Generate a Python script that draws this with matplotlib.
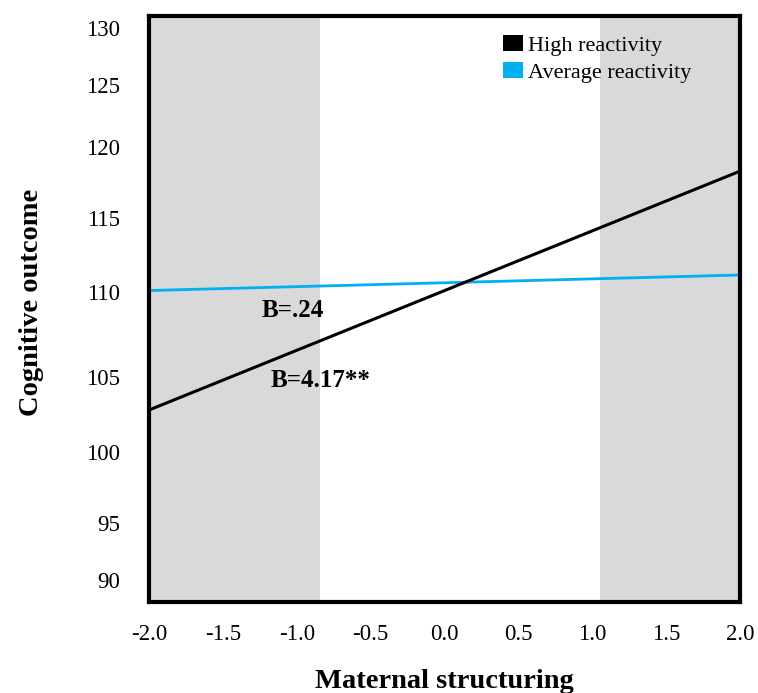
import numpy as np
import matplotlib
matplotlib.use("Agg")
import matplotlib.pyplot as plt
from matplotlib.patches import Patch

plt.rcParams["font.family"] = ["Liberation Serif", "DejaVu Serif"]
plt.rcParams["axes.unicode_minus"] = False

# Data
x_ends = [-2.0, 2.0]
high_reactivity = [102.8, 118.3]
average_reactivity = [110.1, 111.15]
shade_regions = [(-2.0, -0.84), (1.05, 2.0)]
x_ticks = [-2.0, -1.5, -1.0, -0.5, 0.0, 0.5, 1.0, 1.5, 2.0]
x_tick_labels = ["-2.0", "-1.5", "-1.0", "-0.5", "0.0", "0.5", "1.0", "1.5", "2.0"]
y_ticks = [90, 95, 100, 105, 110, 115, 120, 125, 130]
y_tick_labels = ["90", "95", "100", "105", "110", "115", "120", "125", "130"]
annotations = [("B=.24", -1.03, 108.9), ("B=4.17**", -0.84, 104.8)]

# The original y axis is unevenly spaced; map values to heights (px above the bottom)
knot_vals = np.array([0.0, 88.1, 90, 95, 100, 105, 110, 115, 120, 125, 130, 131.05, 300.0])
knot_h = np.array([-8810.0, 0, 22, 79, 150, 225, 310, 384, 455, 517, 574, 586, 17586.0])


def fwd(v):
    return np.interp(v, knot_vals, knot_h)


def inv(h):
    return np.interp(h, knot_h, knot_vals)


fig = plt.figure(figsize=(7.58, 6.93), dpi=100)
ax = fig.add_axes([0.1966, 0.1313, 0.7797, 0.8456])
ax.set_yscale("function", functions=(fwd, inv))

for lo, hi in shade_regions:
    ax.axvspan(lo, hi, color="#d9d9d9", lw=0, zorder=0)

ax.plot(x_ends, average_reactivity, color="#00b0f0", lw=2.0, solid_capstyle="butt")
ax.plot(x_ends, high_reactivity, color="black", lw=2.2, solid_capstyle="butt")

for txt, x, y in annotations:
    ax.text(x, y, txt, ha="center", va="center", fontsize=18, fontweight="bold")

ax.set_xlim(-2.0, 2.0)
ax.set_ylim(88.1, 131.05)
ax.set_xticks(x_ticks)
ax.set_xticklabels(x_tick_labels)
ax.set_yticks(y_ticks)
ax.set_yticklabels(y_tick_labels)
ax.yaxis.set_minor_locator(matplotlib.ticker.NullLocator())
ax.xaxis.set_minor_locator(matplotlib.ticker.NullLocator())
ax.tick_params(axis="both", length=0, labelsize=16.5)
ax.tick_params(axis="y", pad=21)
ax.tick_params(axis="x", pad=16)

for s in ax.spines.values():
    s.set_linewidth(3)
    s.set_zorder(5)

ax.set_xlabel("Maternal structuring", fontsize=20.5, fontweight="bold", labelpad=17)
ax.set_ylabel("Cognitive outcome", fontsize=20.5, fontweight="bold", labelpad=30)
ax.yaxis.label.set_y(0.512)

handles = [Patch(facecolor="black", edgecolor="none"),
           Patch(facecolor="#00b0f0", edgecolor="none")]
ax.legend(handles, ["High reactivity", "Average reactivity"], loc="upper left",
          bbox_to_anchor=(0.663, 0.95), bbox_transform=fig.transFigure,
          frameon=False, fontsize=16, handlelength=0.9, handleheight=0.75,
          handletextpad=0.25, labelspacing=0.3, borderpad=0, borderaxespad=0)

plt.savefig("out.png", dpi=100)
